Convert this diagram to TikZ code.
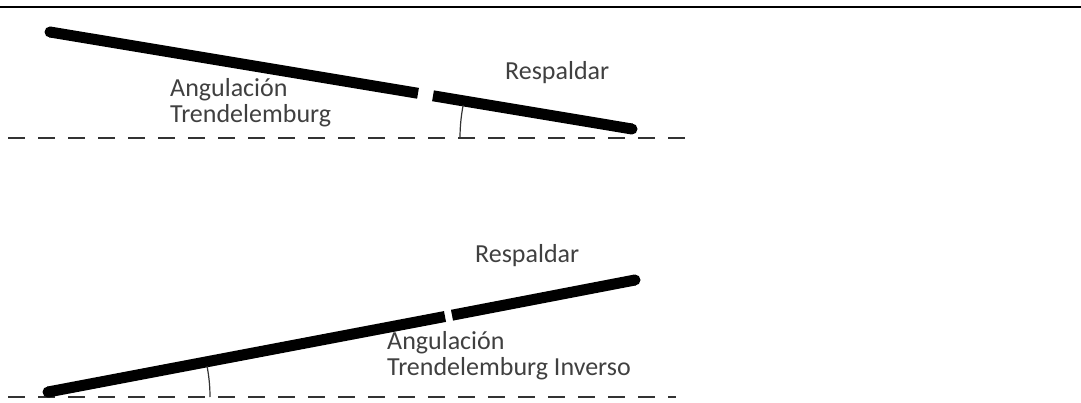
\documentclass[tikz,border=0pt]{standalone}
\usepackage{fontspec}
\setmainfont{Carlito}
\begin{document}
\begin{tikzpicture}[x=1pt,y=-1pt,
  bar/.style={line width=11pt, line cap=butt, black},
  barend/.style={fill=black},
  ref/.style={draw=black!80, line width=1.8pt, dash pattern=on 17pt off 13pt},
  anglearc/.style={draw=black!80, line width=1.2pt},
  lbl/.style={inner sep=0pt, text=black!75, font=\fontsize{26}{26}\selectfont, align=left}]
\useasboundingbox (0,0) rectangle (1081,403);
\draw[line width=2.5pt] (0,7) -- (1081,7);
% top figure
\coordinate (t1) at (50,32);
\coordinate (t2) at (418,93.3);
\coordinate (t3) at (433,95.8);
\coordinate (t4) at (632,129);
\coordinate (d1) at (8,138);
\coordinate (d2) at (692,138);
\draw[ref] (d1) -- (d2);
\draw[bar] (t1) -- (t2);
\draw[bar] (t3) -- (t4);
\fill[barend] (t1) circle (5.5pt);
\fill[barend] (t4) circle (5.5pt);
\draw[anglearc] (460,138) arc[start angle=180, end angle=191, radius=172];
\node[lbl, anchor=base west] (a1) at (170,123) {Angulación\\Trendelemburg};
\node[lbl, anchor=base west] (r1) at (505,80) {Respaldar};
% bottom figure
\coordinate (b1) at (48,392);
\coordinate (b2) at (445,316.5);
\coordinate (b3) at (452,315.2);
\coordinate (b4) at (635,280);
\coordinate (e1) at (8,397);
\coordinate (e2) at (676,397);
\draw[ref] (e1) -- (e2);
\draw[bar] (b1) -- (b2);
\draw[bar] (b3) -- (b4);
\fill[barend] (b1) circle (5.5pt);
\fill[barend] (b4) circle (5.5pt);
\draw[anglearc] (210,397) arc[start angle=0, end angle=-11, radius=162];
\node[lbl, anchor=base west] (a2) at (387,375) {Angulación\\Trendelemburg Inverso};
\node[lbl, anchor=base west] (r2) at (475,263) {Respaldar};
\end{tikzpicture}
\end{document}
